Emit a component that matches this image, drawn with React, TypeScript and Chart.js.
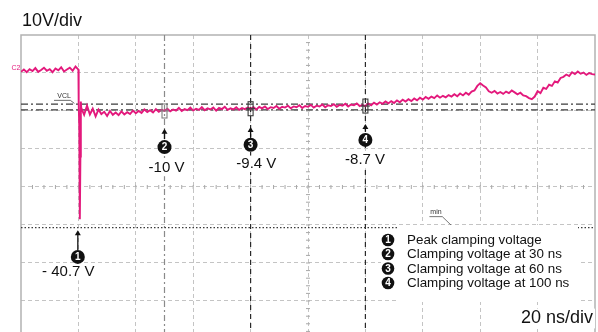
import React, { useEffect, useRef } from "react";
import { Chart, registerables } from "chart.js";

Chart.register(...registerables);

// ---------- data ----------
const TIME_MIN = 0; // ns
const TIME_MAX = 200; // ns (10 div x 20 ns/div)
const VOLT_MAX = 10; // V
const VOLT_MIN = -68.16; // V (bottom of visible screen)

const X_GRID = [20, 40, 60, 80, 100, 120, 140, 160, 180];
const Y_GRID = [0, -10, -20, -30, -40, -50, -60];

// trace before the surge, t = 0..19 ns (1 ns steps)
const PRE_VOLTS = [
  0.3, 0.9, 0.2, 1.0, 0.5, 1.3, 0.3, 0.8, 1.4, 0.6,
  1.0, 0.2, 1.2, 0.7, 1.5, 0.4, 0.9, 1.4, 0.6, 1.7,
];

// the surge spike
const SPIKE_TIMES = [20.0, 20.1, 20.3, 20.5, 20.7, 20.85];
const SPIKE_VOLTS = [0.9, -8.0, -14.0, -38.5, -22.0, -7.5];

// trace after the surge, t = 21..200 ns (1 ns steps)
const POST_START = 21;
const POST_VOLTS = [
  -9.2, -11.0, -8.6, -10.9, -9.4, -11.4, -9.6, -10.8, -10.2, -11.3,
  -10.0, -11.0, -10.4, -11.1, -10.1, -10.9, -10.3, -10.8, -9.9, -10.6,
  -10.0, -10.5, -9.6, -10.3, -9.8, -10.4, -9.5, -10.2, -9.7, -10.0,
  -9.4, -10.1, -9.6, -9.9, -9.2, -10.0, -9.5, -9.8, -9.1, -9.9,
  -9.4, -9.7, -9.0, -9.8, -9.3, -9.6, -9.1, -9.9, -9.2, -9.5,
  -8.9, -9.7, -9.3, -9.6, -9.0, -9.7, -9.2, -9.5, -9.1, -9.4,
  -9.0, -9.6, -8.9, -9.3, -8.8, -9.5, -9.0, -9.2, -8.7, -9.4,
  -8.9, -9.1, -8.6, -9.3, -8.8, -9.0, -8.5, -9.2, -8.7, -8.9,
  -8.4, -9.1, -8.6, -8.8, -8.3, -9.0, -8.5, -8.7, -8.2, -8.9,
  -8.4, -8.6, -8.1, -8.8, -8.3, -8.5, -8.0, -8.7, -8.4, -8.7,
  -8.0, -8.5, -7.8, -8.3, -7.7, -8.1, -7.5, -8.0, -7.4, -7.9,
  -7.2, -7.7, -7.0, -7.5, -6.9, -7.4, -6.7, -7.2, -6.5, -7.0,
  -6.3, -6.8, -6.2, -6.6, -5.9, -6.5, -6.0, -6.4, -5.8, -6.2,
  -5.6, -6.1, -5.4, -5.9, -5.2, -5.7, -4.9, -4.6, -3.4, -2.7,
  -3.3, -3.8, -4.8, -5.2, -4.7, -5.4, -5.0, -5.5, -4.9, -5.3,
  -4.6, -5.1, -5.6, -5.2, -5.9, -6.1, -6.6, -6.9, -6.2, -4.8,
  -5.3, -3.9, -4.2, -3.1, -3.4, -2.2, -2.5, -1.3, -1.0, -0.4,
  -0.8, 0.2, -0.3, 0.4, -0.2, 0.1, -0.5, 0.0, -0.3, -0.4,
];

const VCL_LEVELS = [-8.2, -9.7];
const MIN_LEVEL = -40.7;
const CURSOR_TIMES = [50, 80, 120];
const MARKER_TIMES = [19.8, 50, 80, 120];
const MARKER_LABELS = ["- 40.7 V", "-10 V", "-9.4 V", "-8.7 V"];
const LEGEND_ITEMS = [
  "Peak clamping voltage",
  "Clamping voltage at 30 ns",
  "Clamping voltage at 60 ns",
  "Clamping voltage at 100 ns",
];
const Y_UNIT_LABEL = "10V/div";
const X_UNIT_LABEL = "20 ns/div";

// ---------- styling / layout ----------
const FONT = '"Liberation Sans", Arial, Helvetica, sans-serif';
const TRACE_COLOR = "#e3197c";
const GRID_COLOR = "#c4c4c4";
const BORDER_COLOR = "#b2b2b2";

const MARKER_LAYOUT = [
  { circleV: -48.4, tailV: -46.6, tipV: -41.4, textT: 16.5, textV: -52.4 },
  { circleV: -19.5, tailV: -17.4, tipV: -14.7, textT: 50.7, textV: -25.0 },
  { circleV: -18.9, tailV: -16.8, tipV: -14.2, textT: 82.0, textV: -23.9 },
  { circleV: -17.6, tailV: -15.5, tipV: -13.4, textT: 119.9, textV: -22.9 },
];

const traceData = [
  ...PRE_VOLTS.map((v, i) => ({ x: i, y: v })),
  ...SPIKE_TIMES.map((t, i) => ({ x: t, y: SPIKE_VOLTS[i] })),
  ...POST_VOLTS.map((v, i) => ({ x: POST_START + i, y: v })),
];

function voltAt(t: number): number {
  let best = traceData[0];
  for (const p of traceData) {
    if (Math.abs(p.x - t) < Math.abs(best.x - t)) best = p;
  }
  return best.y;
}

function numberCircle(ctx: CanvasRenderingContext2D, x: number, y: number, n: number, r = 7) {
  ctx.save();
  ctx.beginPath();
  ctx.arc(x, y, r, 0, Math.PI * 2);
  ctx.fillStyle = "#111";
  ctx.fill();
  ctx.fillStyle = "#fff";
  ctx.font = `bold 10px ${FONT}`;
  ctx.textAlign = "center";
  ctx.textBaseline = "middle";
  ctx.fillText(String(n), x, y + 0.5);
  ctx.restore();
}

function arrowUp(ctx: CanvasRenderingContext2D, x: number, yTail: number, yTip: number) {
  ctx.save();
  ctx.strokeStyle = "#111";
  ctx.fillStyle = "#111";
  ctx.lineWidth = 1.3;
  ctx.setLineDash([]);
  ctx.beginPath();
  ctx.moveTo(x, yTail);
  ctx.lineTo(x, yTip + 4);
  ctx.stroke();
  ctx.beginPath();
  ctx.moveTo(x, yTip);
  ctx.lineTo(x - 3, yTip + 5);
  ctx.lineTo(x + 3, yTip + 5);
  ctx.closePath();
  ctx.fill();
  ctx.restore();
}

function textWithBg(
  ctx: CanvasRenderingContext2D,
  text: string,
  x: number,
  y: number,
  size: number,
  align: CanvasTextAlign
) {
  ctx.save();
  ctx.font = `${size}px ${FONT}`;
  const w = ctx.measureText(text).width;
  let left = x;
  if (align === "center") left = x - w / 2;
  if (align === "right") left = x - w;
  ctx.fillStyle = "#fff";
  ctx.fillRect(left - 2, y - size * 0.55, w + 4, size * 1.1);
  ctx.fillStyle = "#111";
  ctx.textAlign = align;
  ctx.textBaseline = "middle";
  ctx.fillText(text, x, y);
  ctx.restore();
}

function smallLabel(ctx: CanvasRenderingContext2D, text: string, x: number, y: number, color: string, size: number) {
  ctx.save();
  ctx.font = `${size}px ${FONT}`;
  ctx.fillStyle = color;
  ctx.textAlign = "center";
  ctx.textBaseline = "middle";
  ctx.fillText(text, x, y);
  ctx.restore();
}

const scopePlugin = {
  id: "scopeDecor",
  beforeDatasetsDraw(chart: any) {
    const { ctx, chartArea: a, scales } = chart;
    const xs = scales.x;
    const ys = scales.y;
    ctx.save();
    // minor ticks on the centre axes
    ctx.strokeStyle = "#a8a8a8";
    ctx.lineWidth = 1;
    ctx.setLineDash([]);
    const yc = ys.getPixelForValue(-30);
    const xc = xs.getPixelForValue(100);
    ctx.beginPath();
    for (let t = 4; t < TIME_MAX; t += 4) {
      const px = xs.getPixelForValue(t);
      ctx.moveTo(px, yc - 2);
      ctx.lineTo(px, yc + 2);
    }
    for (let v = 8; v > VOLT_MIN; v -= 2) {
      const py = ys.getPixelForValue(v);
      ctx.moveTo(xc - 2, py);
      ctx.lineTo(xc + 2, py);
    }
    ctx.stroke();
    // frame
    ctx.strokeStyle = BORDER_COLOR;
    ctx.lineWidth = 1.5;
    ctx.beginPath();
    ctx.moveTo(a.left, a.bottom);
    ctx.lineTo(a.left, a.top);
    ctx.lineTo(a.right, a.top);
    ctx.lineTo(a.right, a.bottom);
    ctx.stroke();
    ctx.restore();
  },
  afterDatasetsDraw(chart: any) {
    const { ctx, chartArea: a, scales } = chart;
    const xs = scales.x;
    const ys = scales.y;
    const X = (t: number) => xs.getPixelForValue(t);
    const Y = (v: number) => ys.getPixelForValue(v);

    // cursor markers on the trace
    CURSOR_TIMES.forEach((t, i) => {
      const px = X(t);
      const py = Y(voltAt(t));
      ctx.save();
      ctx.strokeStyle = i === 0 ? "#808080" : "#3a3a3a";
      ctx.lineWidth = 1.1;
      ctx.setLineDash([]);
      ctx.strokeRect(px - 2.5, py - 7, 5, 14);
      ctx.beginPath();
      ctx.moveTo(px - 4.5, py);
      ctx.lineTo(px + 4.5, py);
      ctx.stroke();
      ctx.restore();
    });

    // tiny scope labels
    smallLabel(ctx, "C2", a.left - 5, Y(1.3), TRACE_COLOR, 7);
    smallLabel(ctx, "VCL", X(15), Y(-6.0), "#333", 7);
    ctx.save();
    ctx.strokeStyle = "#444";
    ctx.lineWidth = 0.8;
    ctx.beginPath();
    ctx.moveTo(X(11.5), Y(-7.2));
    ctx.lineTo(X(17.2), Y(-7.2));
    ctx.lineTo(X(18.6), Y(-8.0));
    ctx.stroke();
    ctx.restore();
    smallLabel(ctx, "min", X(144.6), Y(-36.6), "#333", 7);
    ctx.save();
    ctx.strokeStyle = "#555";
    ctx.lineWidth = 0.8;
    ctx.beginPath();
    ctx.moveTo(X(142.3), Y(-37.8));
    ctx.lineTo(X(146.8), Y(-37.8));
    ctx.lineTo(X(150.5), Y(-40.5));
    ctx.stroke();
    ctx.restore();

    // numbered markers with arrows and values
    MARKER_TIMES.forEach((t, i) => {
      const L = MARKER_LAYOUT[i];
      const px = X(t);
      arrowUp(ctx, px, Y(L.tailV), Y(L.tipV));
      textWithBg(ctx, MARKER_LABELS[i], X(L.textT), Y(L.textV), 15, "center");
      numberCircle(ctx, px, Y(L.circleV), i + 1);
    });

    // legend box
    ctx.save();
    ctx.fillStyle = "#fff";
    ctx.fillRect(397, 225, 181, 77);
    ctx.fillRect(381, 232, 17, 60);
    ctx.restore();
    const rowY = [240, 254, 268.5, 283];
    LEGEND_ITEMS.forEach((txt, i) => {
      numberCircle(ctx, 388, rowY[i], i + 1, 6.3);
      ctx.save();
      ctx.font = `13.4px ${FONT}`;
      ctx.fillStyle = "#111";
      ctx.textAlign = "left";
      ctx.textBaseline = "middle";
      ctx.fillText(txt, 407, rowY[i] + 0.5);
      ctx.restore();
    });

    // units
    textWithBg(ctx, X_UNIT_LABEL, 593, 318.5, 18, "right");
  },
  afterDraw(chart: any) {
    const { ctx } = chart;
    ctx.save();
    ctx.font = `18px ${FONT}`;
    ctx.fillStyle = "#111";
    ctx.textAlign = "left";
    ctx.textBaseline = "alphabetic";
    ctx.fillText(Y_UNIT_LABEL, 22, 26);
    ctx.restore();
  },
};

export default function App() {
  const canvasRef = useRef<HTMLCanvasElement | null>(null);

  useEffect(() => {
    document.body.style.margin = "0";
    document.body.style.overflow = "hidden";
    const canvas = canvasRef.current;
    if (!canvas) return;

    const hLine = (v: number) => [
      { x: TIME_MIN, y: v },
      { x: TIME_MAX, y: v },
    ];
    const vLine = (t: number) => [
      { x: t, y: VOLT_MAX },
      { x: t, y: VOLT_MIN },
    ];

    const datasets: any[] = [
      {
        label: "C2",
        data: traceData,
        borderColor: TRACE_COLOR,
        borderWidth: 1.9,
        pointRadius: 0,
        tension: 0,
        order: 0,
      },
      ...VCL_LEVELS.map((lv) => ({
        label: "VCL",
        data: hLine(lv),
        borderColor: "#3c3c3c",
        borderWidth: 1.2,
        borderDash: [7, 3, 2, 3],
        pointRadius: 0,
        order: 2,
      })),
      {
        label: "min",
        data: hLine(MIN_LEVEL),
        borderColor: "#3a3a3a",
        borderWidth: 1.1,
        borderDash: [1.5, 2],
        pointRadius: 0,
        order: 2,
      },
      ...CURSOR_TIMES.map((t, i) => ({
        label: "cursor",
        data: vLine(t),
        borderColor: i === 0 ? "#8a8a8a" : "#2a2a2a",
        borderWidth: 1.2,
        borderDash: i === 0 ? [6, 3, 2, 3] : [5, 4],
        pointRadius: 0,
        order: 3,
      })),
    ];

    const chart = new Chart(canvas, {
      type: "line",
      data: { datasets },
      options: {
        animation: false,
        responsive: false,
        events: [],
        layout: { padding: { left: 21, top: 35, right: 3, bottom: 0 } },
        plugins: { legend: { display: false }, tooltip: { enabled: false } },
        scales: {
          x: {
            type: "linear",
            min: TIME_MIN,
            max: TIME_MAX,
            afterBuildTicks: (axis: any) => {
              axis.ticks = X_GRID.map((v) => ({ value: v }));
            },
            ticks: { display: false },
            grid: { color: GRID_COLOR, lineWidth: 1, drawTicks: false },
            border: { display: false, dash: [4, 3] },
          },
          y: {
            type: "linear",
            min: VOLT_MIN,
            max: VOLT_MAX,
            afterBuildTicks: (axis: any) => {
              axis.ticks = Y_GRID.map((v) => ({ value: v }));
            },
            ticks: { display: false },
            grid: { color: GRID_COLOR, lineWidth: 1, drawTicks: false },
            border: { display: false, dash: [4, 3] },
          },
        },
      },
      plugins: [scopePlugin],
    });

    return () => chart.destroy();
  }, []);

  return (
    <div style={{ width: 598, height: 332, background: "#fff" }}>
      <canvas ref={canvasRef} width={598} height={332} style={{ display: "block" }} />
    </div>
  );
}
